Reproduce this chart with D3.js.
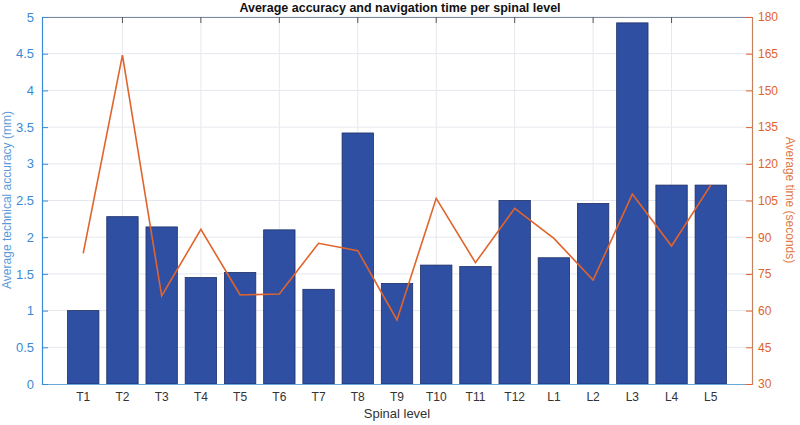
<!DOCTYPE html>
<html><head><meta charset="utf-8">
<script src="https://cdn.jsdelivr.net/npm/d3@7"></script>
<style>body{margin:0;background:#fff}svg{display:block;font-family:"Liberation Sans",Arial,sans-serif}</style>
</head><body><svg id="c" width="800" height="425"></svg>
<script>
const categories = ["T1","T2","T3","T4","T5","T6","T7","T8","T9","T10","T11","T12","L1","L2","L3","L4","L5"];
const accuracy = [1.0,2.28,2.14,1.45,1.52,2.10,1.29,3.42,1.37,1.62,1.60,2.50,1.72,2.46,4.92,2.71,2.71];
const timeSec = [83.4,164.4,66,93.2,66.4,66.8,87.5,84.5,56.2,105.9,79.6,101.8,89.5,72.5,107.6,86.4,111.3];
const leftTicks = [0,0.5,1,1.5,2,2.5,3,3.5,4,4.5,5];
const rightTicks = [30,45,60,75,90,105,120,135,150,165,180];

const svg = d3.select("#c");
const L = 42, R = 752, T = 17, B = 384;
const blue = "#3a8ad6", orange = "#e0642c", barFill = "#2f4fa3", barEdge = "#1e2f66";

const x = d3.scaleBand().domain(categories).range([L + 2, R - 2]).paddingInner(0.2).paddingOuter(0.6);
const yL = d3.scaleLinear().domain([0,5]).range([B,T]);
const yR = d3.scaleLinear().domain([30,180]).range([B,T]);
const cx = d => x(d) + x.bandwidth()/2;

// grid
const g = svg.append("g");
g.selectAll("line.h").data(leftTicks.slice(1)).join("line")
  .attr("x1",L).attr("x2",R).attr("y1",d=>yL(d)).attr("y2",d=>yL(d))
  .attr("stroke","#e4e8ee").attr("stroke-width",1);
const evenCats = categories.filter((d,i)=>i%2===1);
g.selectAll("line.v").data(evenCats).join("line")
  .attr("x1",cx).attr("x2",cx).attr("y1",T).attr("y2",B)
  .attr("stroke","#e8e8ec").attr("stroke-width",1);

// bars
svg.append("g").selectAll("rect").data(categories).join("rect")
  .attr("x",d=>x(d)).attr("width",x.bandwidth())
  .attr("y",(d,i)=>yL(accuracy[i])).attr("height",(d,i)=>B-yL(accuracy[i]))
  .attr("fill",barFill).attr("stroke",barEdge).attr("stroke-width",0.8);

// line
const line = d3.line().x((d,i)=>cx(categories[i])).y(d=>yR(d));
svg.append("path").datum(timeSec).attr("d",line)
  .attr("fill","none").attr("stroke",orange).attr("stroke-width",1.6);

// box top
svg.append("line").attr("x1",L).attr("x2",R).attr("y1",T+0.5).attr("y2",T+0.5).attr("stroke","#7a8a9a").attr("stroke-width",1);
svg.append("g").selectAll("line").data(evenCats).join("line")
  .attr("x1",cx).attr("x2",cx).attr("y1",T).attr("y2",T+6).attr("stroke","#555").attr("stroke-width",1);

// bottom axis
const xAxis = d3.axisBottom(x).tickSize(0).tickPadding(8);
const gx = svg.append("g").attr("transform",`translate(0,${B})`).call(xAxis);
gx.select(".domain").remove();
gx.selectAll("text").attr("font-size",12).attr("fill","#333").attr("font-family","Liberation Sans, Arial, sans-serif");
svg.append("line").attr("x1",L).attr("x2",R).attr("y1",B+0.5).attr("y2",B+0.5).attr("stroke","#6aa6d8").attr("stroke-width",1.2);

// left axis
const gl = svg.append("g").attr("transform",`translate(${L},0)`)
  .call(d3.axisLeft(yL).tickValues(leftTicks).tickSize(-6).tickPadding(8).tickFormat(d=>String(d)));
gl.select(".domain").attr("stroke",blue).attr("stroke-width",1.2);
gl.selectAll(".tick line").attr("stroke",blue);
gl.selectAll("text").attr("font-size",13).attr("fill",blue).attr("font-family","Liberation Sans, Arial, sans-serif");

// right axis
const gr = svg.append("g").attr("transform",`translate(${R},0)`)
  .call(d3.axisRight(yR).tickValues(rightTicks).tickSize(-6).tickPadding(6));
gr.select(".domain").attr("stroke","#c58060").attr("stroke-width",1.2);
gr.selectAll(".tick line").attr("stroke",orange);
gr.selectAll("text").attr("font-size",12).attr("fill",orange).attr("font-family","Liberation Sans, Arial, sans-serif");

// labels
svg.append("text").attr("x",400).attr("y",12).attr("text-anchor","middle")
  .attr("font-size",12.5).attr("font-weight","bold").attr("fill","#111")
  .text("Average accuracy and navigation time per spinal level");
svg.append("text").attr("x",397).attr("y",418).attr("text-anchor","middle")
  .attr("font-size",13).attr("fill","#333").text("Spinal level");
svg.append("text").attr("transform","translate(11,200) rotate(-90)").attr("text-anchor","middle")
  .attr("font-size",12).attr("fill","#5a9ad8").text("Average technical accuracy (mm)");
svg.append("text").attr("transform","translate(786,200) rotate(90)").attr("text-anchor","middle")
  .attr("font-size",12).attr("fill","#e07a48").text("Average time (seconds)");
</script></body></html>
